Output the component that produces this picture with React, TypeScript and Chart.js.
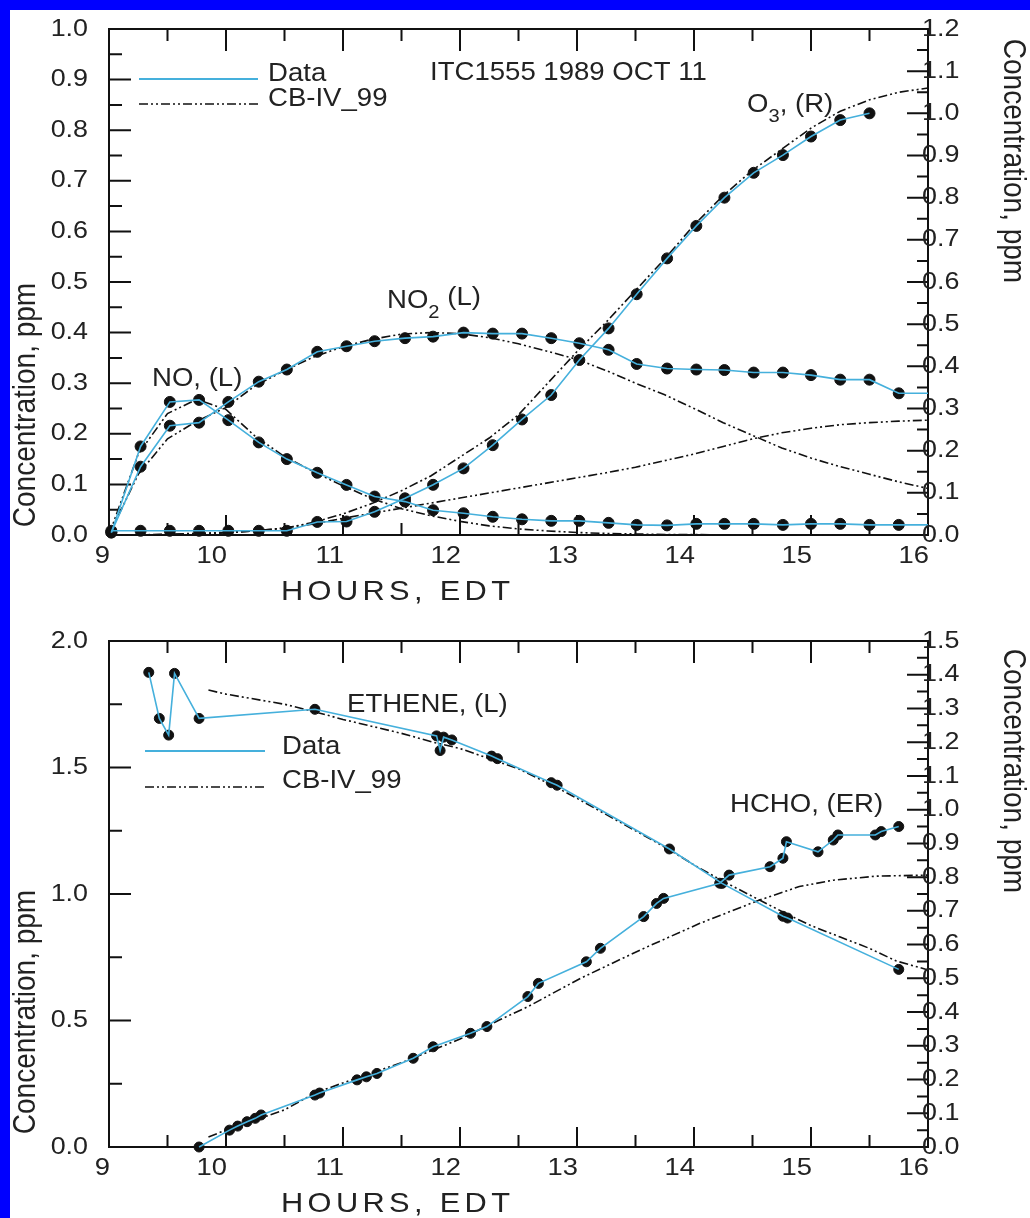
import React, { useEffect, useRef } from "react";
import { Chart, registerables } from "chart.js";

Chart.register(...registerables);

// ---------------- TOP PANEL DATA ----------------
const topLineHours = [9.02, 9.27, 9.52, 9.77, 10.02, 10.28, 10.52, 10.78, 11.03, 11.27, 11.53, 11.77, 12.03, 12.28, 12.53, 12.78, 13.02, 13.27, 13.51, 13.77, 14.02, 14.26, 14.51, 14.76, 15.0, 15.25, 15.5, 15.75, 16.0];
const noData = [0.005, 0.175, 0.263, 0.267, 0.227, 0.183, 0.15, 0.123, 0.099, 0.076, 0.066, 0.049, 0.043, 0.036, 0.031, 0.028, 0.028, 0.024, 0.02, 0.019, 0.022, 0.022, 0.022, 0.02, 0.022, 0.022, 0.02, 0.02, 0.02];
const no2Data = [0.005, 0.135, 0.216, 0.222, 0.263, 0.303, 0.327, 0.362, 0.373, 0.383, 0.389, 0.392, 0.4, 0.398, 0.398, 0.389, 0.379, 0.366, 0.338, 0.329, 0.327, 0.326, 0.321, 0.321, 0.316, 0.307, 0.307, 0.28, 0.28];
const o3Hours = [9.02, 9.27, 9.52, 9.77, 10.02, 10.28, 10.52, 10.78, 11.03, 11.27, 11.53, 11.77, 12.03, 12.28, 12.53, 12.78, 13.02, 13.27, 13.51, 13.77, 14.02, 14.26, 14.51, 14.76, 15.0, 15.25, 15.5];
const o3Data = [0.01, 0.01, 0.01, 0.01, 0.01, 0.01, 0.01, 0.031, 0.032, 0.055, 0.087, 0.119, 0.158, 0.213, 0.274, 0.332, 0.415, 0.49, 0.571, 0.656, 0.733, 0.8, 0.859, 0.901, 0.945, 0.984, 1.0];

const modelHours = [9.0, 9.25, 9.5, 9.75, 10.0, 10.25, 10.5, 10.75, 11.0, 11.25, 11.5, 11.75, 12.0, 12.25, 12.5, 12.75, 13.0, 13.25, 13.5, 13.75, 14.0, 14.25, 14.5, 14.75, 15.0, 15.25, 15.5, 15.75, 16.0];
const noModel = [0.0, 0.16, 0.24, 0.268, 0.248, 0.195, 0.155, 0.125, 0.097, 0.072, 0.052, 0.038, 0.027, 0.018, 0.012, 0.008, 0.005, 0.003, 0.002, 0.001, 0.001, 0, 0, 0, 0, 0, 0, 0, 0];
const no2Model = [0.0, 0.12, 0.19, 0.225, 0.252, 0.295, 0.325, 0.352, 0.372, 0.387, 0.397, 0.4, 0.398, 0.39, 0.378, 0.363, 0.347, 0.325, 0.3, 0.277, 0.25, 0.222, 0.197, 0.172, 0.152, 0.135, 0.12, 0.105, 0.092];
const o3Model = [0, 0, 0.002, 0.004, 0.006, 0.01, 0.016, 0.03, 0.05, 0.075, 0.105, 0.14, 0.185, 0.23, 0.285, 0.36, 0.435, 0.505, 0.58, 0.655, 0.735, 0.805, 0.865, 0.915, 0.965, 1.005, 1.032, 1.05, 1.06];
const otherModel = [0, 0, 0.001, 0.002, 0.004, 0.008, 0.014, 0.022, 0.033, 0.043, 0.053, 0.063, 0.073, 0.083, 0.093, 0.103, 0.113, 0.123, 0.134, 0.147, 0.16, 0.175, 0.19, 0.202, 0.211, 0.218, 0.222, 0.225, 0.227];

// ---------------- BOTTOM PANEL DATA ----------------
const ethHours = [9.34, 9.43, 9.51, 9.56, 9.77, 10.76, 11.8, 11.83, 11.86, 11.93, 12.27, 12.32, 12.78, 12.83, 13.79, 14.24, 14.76, 14.8, 15.75];
const ethData = [1.876, 1.694, 1.628, 1.872, 1.694, 1.73, 1.625, 1.567, 1.62, 1.609, 1.545, 1.535, 1.44, 1.43, 1.178, 1.042, 0.912, 0.905, 0.702];
const ethModelHours = [9.85, 10.0, 10.5, 10.76, 11.0, 11.5, 11.77, 12.0, 12.28, 12.5, 12.81, 13.0, 13.5, 13.79, 14.0, 14.25, 14.56, 14.82, 15.0, 15.25, 15.5, 15.73, 16.0];
const ethModel = [1.806, 1.79, 1.75, 1.72, 1.69, 1.635, 1.6, 1.575, 1.53, 1.495, 1.425, 1.378, 1.25, 1.175, 1.115, 1.05, 0.976, 0.915, 0.875, 0.83, 0.785, 0.735, 0.7];
const hchoHours = [9.77, 10.03, 10.1, 10.18, 10.25, 10.3, 10.76, 10.8, 11.12, 11.2, 11.29, 11.6, 11.77, 12.09, 12.23, 12.58, 12.67, 13.08, 13.2, 13.57, 13.68, 13.74, 14.22, 14.3, 14.65, 14.76, 14.79, 15.06, 15.19, 15.23, 15.55, 15.6, 15.75];
const hchoData = [0.0, 0.05, 0.062, 0.075, 0.085, 0.095, 0.154, 0.16, 0.199, 0.208, 0.218, 0.263, 0.297, 0.337, 0.357, 0.446, 0.485, 0.549, 0.589, 0.683, 0.722, 0.737, 0.782, 0.806, 0.831, 0.856, 0.905, 0.875, 0.91, 0.925, 0.925, 0.935, 0.95];
const hchoModelHours = [9.85, 10.0, 10.5, 10.76, 11.0, 11.5, 12.0, 12.34, 12.58, 13.03, 13.54, 14.05, 14.56, 14.9, 15.19, 15.56, 16.0];
const hchoModel = [0.03, 0.05, 0.11, 0.16, 0.19, 0.25, 0.32, 0.377, 0.416, 0.5, 0.584, 0.663, 0.732, 0.772, 0.791, 0.803, 0.806];

// ---------------- TICKS ----------------
const xMajor = [9, 10, 11, 12, 13, 14, 15, 16];
const xLabels = ["9", "10", "11", "12", "13", "14", "15", "16"];
const xMinor = [9.5, 10.5, 11.5, 12.5, 13.5, 14.5, 15.5];

const topLeftMajor = [0, 0.1, 0.2, 0.3, 0.4, 0.5, 0.6, 0.7, 0.8, 0.9, 1.0];
const topLeftLabels = ["0.0", "0.1", "0.2", "0.3", "0.4", "0.5", "0.6", "0.7", "0.8", "0.9", "1.0"];
const topLeftMinor = [0.05, 0.15, 0.25, 0.35, 0.45, 0.55, 0.65, 0.75, 0.85, 0.95];
const topRightMajor = [0, 0.1, 0.2, 0.3, 0.4, 0.5, 0.6, 0.7, 0.8, 0.9, 1.0, 1.1, 1.2];
const topRightLabels = ["0.0", "0.1", "0.2", "0.3", "0.4", "0.5", "0.6", "0.7", "0.8", "0.9", "1.0", "1.1", "1.2"];
const topRightMinor = [0.05, 0.15, 0.25, 0.35, 0.45, 0.55, 0.65, 0.75, 0.85, 0.95, 1.05, 1.15];

const botLeftMajor = [0, 0.5, 1.0, 1.5, 2.0];
const botLeftLabels = ["0.0", "0.5", "1.0", "1.5", "2.0"];
const botLeftMinor = [0.25, 0.75, 1.25, 1.75];
const botRightMajor = [0, 0.1, 0.2, 0.3, 0.4, 0.5, 0.6, 0.7, 0.8, 0.9, 1.0, 1.1, 1.2, 1.3, 1.4, 1.5];
const botRightLabels = ["0.0", "0.1", "0.2", "0.3", "0.4", "0.5", "0.6", "0.7", "0.8", "0.9", "1.0", "1.1", "1.2", "1.3", "1.4", "1.5"];
const botRightMinor = [0.05, 0.15, 0.25, 0.35, 0.45, 0.55, 0.65, 0.75, 0.85, 0.95, 1.05, 1.15, 1.25, 1.35, 1.45];

// ---------------- STYLE ----------------
const BLUE = "#45B0DC";
const INK = "#111";
const TXT = "#222";
const DASH = [9, 3, 2, 3, 2, 3];
const FONT = '"Liberation Sans", Arial, Helvetica, sans-serif';

const pts = (xs: number[], ys: number[]) => xs.map((x, i) => ({ x, y: ys[i] }));

function dataSeries(xs: number[], ys: number[], axis: string, r: number) {
  const data = pts(xs, ys);
  return [
    {
      data,
      yAxisID: axis,
      showLine: false,
      pointRadius: (c: any) => (c.raw && c.raw.x >= 15.99 ? 0 : r),
      pointBackgroundColor: INK,
      pointBorderColor: INK,
      pointBorderWidth: 1,
      order: 3,
      clip: false,
    },
    {
      data,
      yAxisID: axis,
      borderColor: BLUE,
      borderWidth: 1.6,
      pointRadius: 0,
      order: 1,
      clip: false,
    },
  ];
}

function modelSeries(xs: number[], ys: number[], axis: string) {
  return {
    data: pts(xs, ys),
    yAxisID: axis,
    borderColor: INK,
    borderWidth: 1.6,
    borderDash: DASH,
    pointRadius: 0,
    order: 2,
    clip: false,
  };
}

function drawText(ctx: any, s: string, x: number, y: number, size: number, align: string, baseline: string, stretch: number) {
  ctx.save();
  ctx.translate(x, y);
  ctx.scale(stretch, 1);
  ctx.font = `${size}px ${FONT}`;
  ctx.fillStyle = TXT;
  ctx.textAlign = align;
  ctx.textBaseline = baseline;
  ctx.fillText(s, 0, 0);
  ctx.restore();
}

function drawRot(ctx: any, s: string, x: number, y: number, size: number, angle: number, stretch: number) {
  ctx.save();
  ctx.translate(x, y);
  ctx.rotate(angle);
  ctx.scale(1, stretch);
  ctx.font = `${size}px ${FONT}`;
  ctx.fillStyle = TXT;
  ctx.textAlign = "center";
  ctx.textBaseline = "middle";
  ctx.fillText(s, 0, 0);
  ctx.restore();
}

function drawSpaced(ctx: any, s: string, x1: number, x2: number, y: number, size: number, stretch: number) {
  ctx.save();
  ctx.font = `${size}px ${FONT}`;
  const chars = s.split("");
  const widths = chars.map((c) => ctx.measureText(c).width * stretch);
  const total = widths.reduce((a, b) => a + b, 0);
  const gap = (x2 - x1 - total) / (chars.length - 1);
  ctx.restore();
  let cx = x1;
  chars.forEach((c, i) => {
    drawText(ctx, c, cx, y, size, "left", "middle", stretch);
    cx += widths[i] + gap;
  });
}

type Part = { text: string; size: number; dy: number };

function drawParts(ctx: any, parts: Part[], x: number, y: number, stretch: number) {
  let cx = x;
  parts.forEach((p) => {
    ctx.save();
    ctx.font = `${p.size}px ${FONT}`;
    const w = ctx.measureText(p.text).width * stretch;
    ctx.restore();
    drawText(ctx, p.text, cx, y + p.dy, p.size, "left", "alphabetic", stretch);
    cx += w;
  });
}

type FrameCfg = {
  leftMajor: number[];
  leftLabels: string[];
  leftMinor: number[];
  rightMajor: number[];
  rightLabels: string[];
  rightMinor: number[];
  xLabelY: number;
  xTitleY: number;
  leftTitleY: number;
  rightTitleY: number;
  legend: { x1: number; x2: number; yData: number; yModel: number; textX: number; tData: number; tModel: number };
  notes: { parts: Part[]; x: number; y: number }[];
};

function makeFrame(cfg: FrameCfg) {
  return {
    id: "frame",
    beforeDatasetsDraw(chart: any) {
      const ctx = chart.ctx;
      const { left, right, top, bottom } = chart.chartArea;
      const X = chart.scales.x;
      const L = chart.scales.yL;
      const R = chart.scales.yR;
      ctx.save();
      ctx.strokeStyle = INK;
      ctx.lineWidth = 2;
      ctx.setLineDash([]);
      ctx.strokeRect(left, top, right - left, bottom - top);
      ctx.beginPath();
      const seg = (a: number, b: number, c: number, d: number) => {
        ctx.moveTo(a, b);
        ctx.lineTo(c, d);
      };
      xMajor.slice(1, -1).forEach((v) => {
        const p = X.getPixelForValue(v);
        seg(p, bottom, p, bottom - 20);
        seg(p, top, p, top + 22);
      });
      xMinor.forEach((v) => {
        const p = X.getPixelForValue(v);
        seg(p, bottom, p, bottom - 12);
        seg(p, top, p, top + 12);
      });
      cfg.leftMajor.forEach((v) => {
        const p = L.getPixelForValue(v);
        seg(left, p, left + 22, p);
      });
      cfg.leftMinor.forEach((v) => {
        const p = L.getPixelForValue(v);
        seg(left, p, left + 13, p);
      });
      cfg.rightMajor.forEach((v) => {
        const p = R.getPixelForValue(v);
        seg(right - 21, p, right, p);
      });
      cfg.rightMinor.forEach((v) => {
        const p = R.getPixelForValue(v);
        seg(right - 11, p, right, p);
      });
      ctx.stroke();
      ctx.restore();
    },
    afterDraw(chart: any) {
      const ctx = chart.ctx;
      const { left, right } = chart.chartArea;
      const X = chart.scales.x;
      const L = chart.scales.yL;
      const R = chart.scales.yR;
      xMajor.forEach((v, i) => {
        drawText(ctx, xLabels[i], X.getPixelForValue(v) + 1, cfg.xLabelY, 24, "right", "middle", 1.14);
      });
      cfg.leftMajor.forEach((v, i) => {
        drawText(ctx, cfg.leftLabels[i], left - 21, L.getPixelForValue(v), 24, "right", "middle", 1.12);
      });
      cfg.rightMajor.forEach((v, i) => {
        drawText(ctx, cfg.rightLabels[i], right - 6, R.getPixelForValue(v), 24, "left", "middle", 1.12);
      });
      drawSpaced(ctx, "HOURS, EDT", 281, 510, cfg.xTitleY, 28, 1.1);
      drawRot(ctx, "Concentration, ppm", 27, cfg.leftTitleY, 28, -Math.PI / 2, 1.1);
      drawRot(ctx, "Concentration, ppm", 1012, cfg.rightTitleY, 28, Math.PI / 2, 1.1);
      // legend
      const lg = cfg.legend;
      ctx.save();
      ctx.lineWidth = 2;
      ctx.strokeStyle = BLUE;
      ctx.beginPath();
      ctx.moveTo(lg.x1, lg.yData);
      ctx.lineTo(lg.x2, lg.yData);
      ctx.stroke();
      ctx.strokeStyle = INK;
      ctx.lineWidth = 1.6;
      ctx.setLineDash(DASH);
      ctx.beginPath();
      ctx.moveTo(lg.x1, lg.yModel);
      ctx.lineTo(lg.x2, lg.yModel);
      ctx.stroke();
      ctx.restore();
      drawText(ctx, "Data", lg.textX, lg.tData, 26, "left", "middle", 1.06);
      drawText(ctx, "CB-IV_99", lg.textX, lg.tModel, 26, "left", "middle", 1.06);
      cfg.notes.forEach((n) => drawParts(ctx, n.parts, n.x, n.y, 1.06));
    },
  };
}

function buildConfig(datasets: any[], yLMax: number, yRMax: number, padTop: number, padBottom: number, cfg: FrameCfg) {
  return {
    type: "line" as const,
    data: { datasets },
    options: {
      animation: false,
      responsive: false,
      maintainAspectRatio: false,
      devicePixelRatio: 1,
      events: [],
      layout: { padding: { left: 109, right: 102, top: padTop, bottom: padBottom } },
      plugins: { legend: { display: false }, tooltip: { enabled: false } },
      scales: {
        x: { type: "linear", min: 9, max: 16, display: false },
        yL: { type: "linear", position: "left", min: 0, max: yLMax, display: false },
        yR: { type: "linear", position: "right", min: 0, max: yRMax, display: false },
      },
    },
    plugins: [makeFrame(cfg)],
  };
}

export default function App() {
  const topRef = useRef<HTMLCanvasElement>(null);
  const botRef = useRef<HTMLCanvasElement>(null);

  useEffect(() => {
    const topDatasets = [
      ...dataSeries(topLineHours, noData, "yL", 5.5),
      ...dataSeries(topLineHours, no2Data, "yL", 5.5),
      ...dataSeries(o3Hours, o3Data, "yR", 5.5),
      modelSeries(modelHours, noModel, "yL"),
      modelSeries(modelHours, no2Model, "yL"),
      modelSeries(modelHours, o3Model, "yR"),
      modelSeries(modelHours, otherModel, "yL"),
    ];
    const topCfg: FrameCfg = {
      leftMajor: topLeftMajor,
      leftLabels: topLeftLabels,
      leftMinor: topLeftMinor,
      rightMajor: topRightMajor,
      rightLabels: topRightLabels,
      rightMinor: topRightMinor,
      xLabelY: 556,
      xTitleY: 592,
      leftTitleY: 405,
      rightTitleY: 161,
      legend: { x1: 139, x2: 258, yData: 79, yModel: 104, textX: 268, tData: 74, tModel: 99 },
      notes: [
        { parts: [{ text: "ITC1555 1989 OCT 11", size: 26, dy: 0 }], x: 430, y: 80 },
        {
          parts: [
            { text: "O", size: 26, dy: 0 },
            { text: "3", size: 19, dy: 10 },
            { text: ", (R)", size: 26, dy: 0 },
          ],
          x: 747,
          y: 112,
        },
        { parts: [{ text: "NO, (L)", size: 26, dy: 0 }], x: 152, y: 386 },
        {
          parts: [
            { text: "NO", size: 26, dy: 0 },
            { text: "2", size: 19, dy: 10 },
            { text: " (L)", size: 26, dy: -3 },
          ],
          x: 387,
          y: 308,
        },
      ],
    };

    const botDatasets = [
      ...dataSeries(ethHours, ethData, "yL", 5),
      ...dataSeries(hchoHours, hchoData, "yR", 5),
      modelSeries(ethModelHours, ethModel, "yL"),
      modelSeries(hchoModelHours, hchoModel, "yR"),
    ];
    const botCfg: FrameCfg = {
      leftMajor: botLeftMajor,
      leftLabels: botLeftLabels,
      leftMinor: botLeftMinor,
      rightMajor: botRightMajor,
      rightLabels: botRightLabels,
      rightMinor: botRightMinor,
      xLabelY: 559,
      xTitleY: 595,
      leftTitleY: 403,
      rightTitleY: 162,
      legend: { x1: 145, x2: 265, yData: 142, yModel: 178, textX: 282, tData: 138, tModel: 172 },
      notes: [
        { parts: [{ text: "ETHENE, (L)", size: 26, dy: 0 }], x: 347, y: 103 },
        { parts: [{ text: "HCHO, (ER)", size: 26, dy: 0 }], x: 730, y: 203 },
      ],
    };

    const c1 = new Chart(topRef.current as HTMLCanvasElement, buildConfig(topDatasets, 1.0, 1.2, 29, 74, topCfg) as any);
    const c2 = new Chart(botRef.current as HTMLCanvasElement, buildConfig(botDatasets, 2.0, 1.5, 32, 71, botCfg) as any);
    return () => {
      c1.destroy();
      c2.destroy();
    };
  }, []);

  return (
    <div style={{ position: "fixed", left: 0, top: 0, width: 1030, height: 1218, background: "#0000FF", overflow: "hidden" }}>
      <div style={{ position: "absolute", left: 10, top: 10, width: 1020, height: 1208, background: "#ffffff" }} />
      <canvas ref={topRef} width={1030} height={609} style={{ position: "absolute", left: 0, top: 0, width: 1030, height: 609 }} />
      <canvas ref={botRef} width={1030} height={609} style={{ position: "absolute", left: 0, top: 609, width: 1030, height: 609 }} />
    </div>
  );
}
